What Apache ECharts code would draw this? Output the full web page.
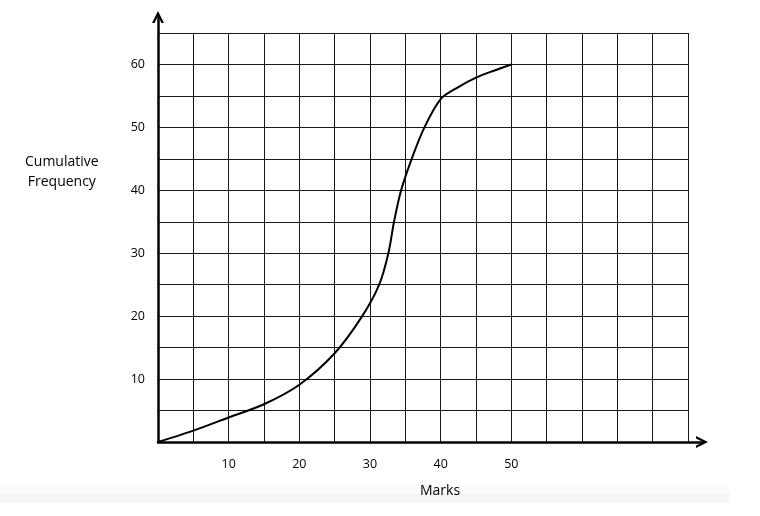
<!DOCTYPE html>
<html>
<head>
<meta charset="utf-8">
<script src="https://cdn.jsdelivr.net/npm/echarts@6/dist/echarts.min.js"></script>
<style>
html,body{margin:0;padding:0;background:#fff;}
#c{width:760px;height:516px;}
</style>
</head>
<body>
<div id="c"></div>
<script>
// Data
var marks = [0, 5, 10, 15, 20, 25, 28.9, 31.3, 32.6, 33.4, 34.4, 35.9, 37.7, 40, 42.5, 45, 47.5, 50];
var cumFreq = [0, 1.8, 3.9, 6, 9.1, 14.1, 20, 25, 30, 35, 40, 45, 50, 54.5, 56.4, 57.9, 59, 60];
var xLabels = [10, 20, 30, 40, 50];
var yLabels = [10, 20, 30, 40, 50, 60];
var xTitle = 'Marks';
var yTitle = 'Cumulative\nFrequency';

var points = marks.map(function (m, i) { return [m, cumFreq[i]]; });
var font = '"Open Sans", "Liberation Sans", sans-serif';
var arrowPath = 'path://M0,12 L6,0 L12,12 L9.5,12 L6,5 L2.5,12 Z';

var chart = echarts.init(document.getElementById('c'));
chart.setOption({
  backgroundColor: '#fff',
  animation: false,
  grid: [
    {left: 158, right: 72, top: 33, bottom: 74},
    {left: 158, right: 58, top: 17, bottom: 74}
  ],
  xAxis: [
    {
      type: 'value', gridIndex: 0, min: 0, max: 75, interval: 5,
      axisLine: {show: false}, axisTick: {show: false},
      axisLabel: {
        margin: 16, color: '#000', fontSize: 12.5, fontFamily: font,
        formatter: function (v) { return xLabels.indexOf(v) >= 0 ? String(v) : ''; }
      },
      splitLine: {show: true, lineStyle: {color: '#1a1a1a', width: 1}}
    },
    {
      type: 'value', gridIndex: 1, min: 0, max: 1, z: 5,
      axisLine: {show: true, symbol: ['none', arrowPath], symbolSize: [13, 12],
        lineStyle: {color: '#000', width: 2.5}},
      axisTick: {show: false}, axisLabel: {show: false}, splitLine: {show: false}
    }
  ],
  yAxis: [
    {
      type: 'value', gridIndex: 0, min: 0, max: 65, interval: 5,
      axisLine: {show: false}, axisTick: {show: false},
      axisLabel: {
        margin: 13, color: '#000', fontSize: 12.5, fontFamily: font,
        formatter: function (v) { return yLabels.indexOf(v) >= 0 ? String(v) : ''; }
      },
      splitLine: {show: true, lineStyle: {color: '#1a1a1a', width: 1}}
    },
    {
      type: 'value', gridIndex: 1, min: 0, max: 1, z: 5,
      axisLine: {show: true, symbol: ['none', arrowPath], symbolSize: [13, 12],
        lineStyle: {color: '#000', width: 2.5}},
      axisTick: {show: false}, axisLabel: {show: false}, splitLine: {show: false}
    }
  ],
  graphic: [
    {type: 'rect', z: -10, shape: {x: 0, y: 484, width: 730, height: 9}, style: {fill: '#fcfcfc'}},
    {type: 'rect', z: -10, shape: {x: 0, y: 493, width: 730, height: 10}, style: {fill: '#f6f6f6'}},
    {type: 'text', left: 420, top: 484, style: {text: xTitle, font: '14px ' + font, fill: '#000'}},
    {type: 'text', left: 25, top: 152, style: {text: yTitle, font: '14px ' + font, fill: '#000', textAlign: 'center', lineHeight: 20}}
  ],
  series: [
    {
      type: 'line', xAxisIndex: 0, yAxisIndex: 0, data: points,
      smooth: 0.3, showSymbol: false, z: 4,
      lineStyle: {color: '#000', width: 2}
    }
  ]
});
</script>
</body>
</html>
